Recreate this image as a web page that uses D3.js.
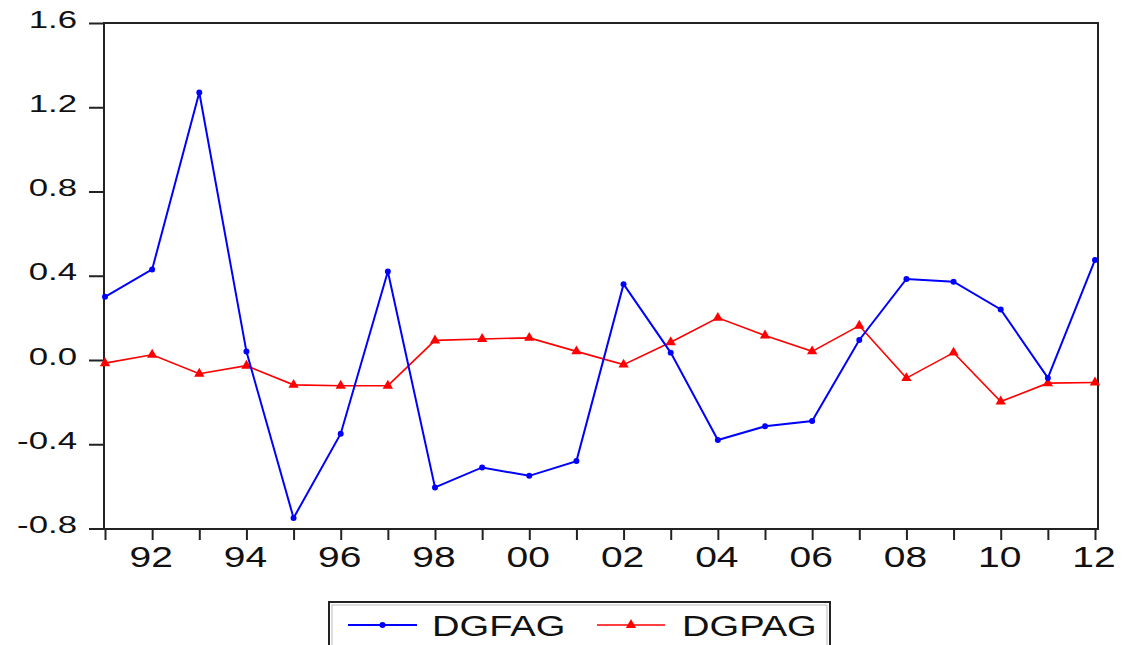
<!DOCTYPE html>
<html>
<head>
<meta charset="utf-8">
<script src="https://cdn.jsdelivr.net/npm/d3@7"></script>
<style>
  html, body { margin: 0; padding: 0; background: #fff; }
  svg { display: block; }
  text { font-family: "Liberation Sans", Arial, sans-serif; fill: #111; }
</style>
</head>
<body>
<svg id="chart" width="1128" height="645"></svg>
<script>
// Annual series, 1991-2012
const years = d3.range(1991, 2013);
const dgfag = [0.30, 0.43, 1.27, 0.04, -0.75, -0.35, 0.42, -0.605, -0.51, -0.55, -0.48,
               0.36, 0.035, -0.38, -0.315, -0.29, 0.095, 0.385, 0.372, 0.24, -0.085, 0.475];
const dgpag = [-0.015, 0.025, -0.065, -0.027, -0.118, -0.122, -0.122, 0.093, 0.10, 0.105, 0.041,
               -0.022, 0.084, 0.20, 0.116, 0.041, 0.163, -0.086, 0.035, -0.197, -0.11, -0.107];
const yTicks = [-0.8, -0.4, 0.0, 0.4, 0.8, 1.2, 1.6];
const seriesNames = ["DGFAG", "DGPAG"];

const svg = d3.select("#chart");
const frame = { left: 104, right: 1098, top: 23, bottom: 529 };

const x = d3.scaleLinear().domain([1991, 2012]).range([105, 1095]);
const y = d3.scaleLinear().domain([-0.8, 1.6]).range([528.5, 23]);

// plot frame
svg.append("rect")
  .attr("x", frame.left).attr("y", frame.top)
  .attr("width", frame.right - frame.left).attr("height", frame.bottom - frame.top)
  .attr("fill", "none").attr("stroke", "#222").attr("stroke-width", 2);

// y axis ticks and labels
const yAxis = svg.append("g").attr("transform", `translate(${frame.left},0)`)
  .call(d3.axisLeft(y).tickValues(yTicks).tickSize(15).tickFormat(""));
yAxis.select(".domain").remove();
yAxis.selectAll("line").attr("stroke", "#222").attr("stroke-width", 2);

svg.append("g").selectAll("text").data(yTicks).join("text")
  .attr("transform", d => `translate(77,${y(d) + 4.5}) scale(1.45,1)`)
  .attr("text-anchor", "end")
  .attr("font-size", 24)
  .text(d => d.toFixed(1));

// x axis ticks and labels
const xAxis = svg.append("g").attr("transform", `translate(0,${frame.bottom})`)
  .call(d3.axisBottom(x).tickValues(years).tickSize(11).tickFormat(""));
xAxis.select(".domain").remove();
xAxis.selectAll("line").attr("stroke", "#222").attr("stroke-width", 2);

svg.append("g").selectAll("text").data(years.filter(yr => yr % 2 === 0)).join("text")
  .attr("transform", d => `translate(${x(d) - 1},567) scale(1.3,1)`)
  .attr("text-anchor", "middle")
  .attr("font-size", 30)
  .text(d => String(d % 100).padStart(2, "0"));

// series
const line = d3.line().x((d, i) => x(years[i])).y(d => y(d));
const tri = d3.symbol().type(d3.symbolTriangle).size(46);
const dot = d3.symbol().type(d3.symbolCircle).size(28);

svg.append("path").datum(dgpag)
  .attr("d", line).attr("fill", "none").attr("stroke", "#ff0000").attr("stroke-width", 1.6);
svg.append("g").selectAll("path").data(dgpag).join("path")
  .attr("d", tri).attr("fill", "#ff0000")
  .attr("transform", (d, i) => `translate(${x(years[i])},${y(d)})`);

svg.append("path").datum(dgfag)
  .attr("d", line).attr("fill", "none").attr("stroke", "#0000ff").attr("stroke-width", 2);
svg.append("g").selectAll("path").data(dgfag).join("path")
  .attr("d", dot).attr("fill", "#0000ff")
  .attr("transform", (d, i) => `translate(${x(years[i])},${y(d)})`);

// legend
const legend = svg.append("g");
legend.append("rect").attr("x", 329).attr("y", 602).attr("width", 501).attr("height", 60)
  .attr("fill", "#fff").attr("stroke", "#222").attr("stroke-width", 2);
legend.append("rect").attr("x", 332).attr("y", 605).attr("width", 495).attr("height", 60)
  .attr("fill", "none").attr("stroke", "#bbb").attr("stroke-width", 1);

const legendItems = [
  { name: seriesNames[0], color: "#0000ff", sym: dot, x0: 348, x1: 417, tx: 432 },
  { name: seriesNames[1], color: "#ff0000", sym: tri, x0: 597, x1: 665, tx: 682 }
];
legendItems.forEach(it => {
  legend.append("line").attr("x1", it.x0).attr("x2", it.x1).attr("y1", 625).attr("y2", 625)
    .attr("stroke", it.color).attr("stroke-width", it.color === "#0000ff" ? 2 : 1.6);
  legend.append("path").attr("d", it.sym).attr("fill", it.color)
    .attr("transform", `translate(${(it.x0 + it.x1) / 2},625)`);
  legend.append("text")
    .attr("transform", `translate(${it.tx},636) scale(1.27,1)`)
    .attr("font-size", 30)
    .text(it.name);
});
</script>
</body>
</html>
